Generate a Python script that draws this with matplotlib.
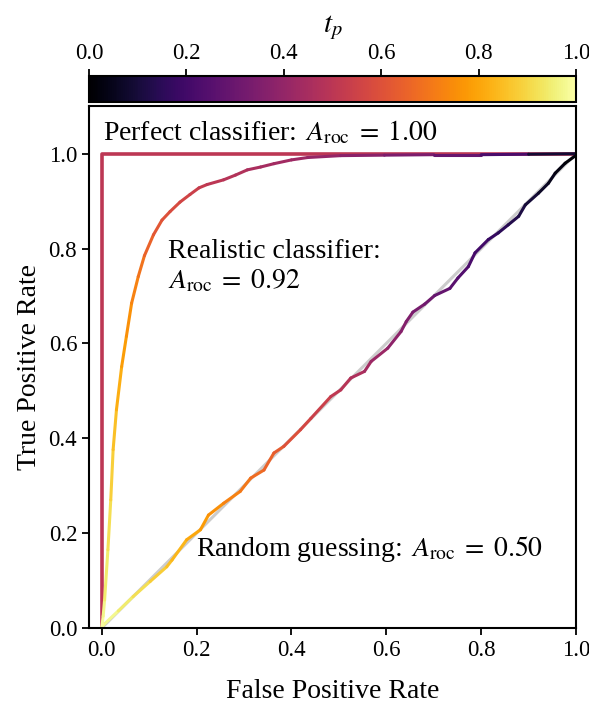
import numpy as np
import matplotlib
matplotlib.use("Agg")
import matplotlib.pyplot as plt
from matplotlib.collections import LineCollection
from matplotlib.cm import ScalarMappable
from matplotlib.colors import Normalize

plt.rcParams['font.family'] = 'serif'
plt.rcParams['font.serif'] = ['Liberation Serif', 'DejaVu Serif']
plt.rcParams['mathtext.fontset'] = 'stix'

# ROC points (FPR, TPR) and the threshold t_p at each point
random_fpr = [0.0, 0.003, 0.035, 0.066, 0.102, 0.137, 0.148, 0.179, 0.208, 0.225, 0.257,
              0.292, 0.314, 0.342, 0.363, 0.384, 0.419, 0.441, 0.483, 0.504, 0.525,
              0.554, 0.568, 0.603, 0.631, 0.642, 0.656, 0.681, 0.702, 0.734, 0.751,
              0.773, 0.787, 0.815, 0.836, 0.857, 0.879, 0.893, 0.921, 0.942, 0.956,
              0.977, 0.999, 1.0]
random_tpr = [0.0, 0.006, 0.036, 0.066, 0.098, 0.129, 0.143, 0.186, 0.207, 0.238, 0.263,
              0.288, 0.316, 0.333, 0.369, 0.383, 0.418, 0.442, 0.488, 0.502, 0.527,
              0.541, 0.562, 0.590, 0.625, 0.646, 0.666, 0.683, 0.701, 0.716, 0.738,
              0.762, 0.791, 0.819, 0.833, 0.850, 0.868, 0.892, 0.917, 0.938, 0.959,
              0.980, 0.996, 1.0]
random_tp = [1.0, 0.99, 0.96, 0.93, 0.90, 0.86, 0.85, 0.82, 0.79, 0.77, 0.74,
             0.71, 0.69, 0.66, 0.64, 0.62, 0.58, 0.56, 0.52, 0.50, 0.48,
             0.45, 0.43, 0.40, 0.37, 0.36, 0.34, 0.32, 0.30, 0.27, 0.25,
             0.23, 0.21, 0.19, 0.16, 0.14, 0.12, 0.11, 0.08, 0.06, 0.04,
             0.02, 0.01, 0.0]

real_fpr = [0.0, 0.003, 0.006, 0.013, 0.019, 0.024, 0.031, 0.042, 0.052, 0.063, 0.077,
            0.090, 0.109, 0.127, 0.144, 0.165, 0.186, 0.205, 0.222, 0.257, 0.282,
            0.307, 0.335, 0.363, 0.400, 0.434, 0.504, 0.596, 0.700, 0.800, 0.900, 1.0]
real_tpr = [0.0, 0.025, 0.059, 0.165, 0.270, 0.376, 0.460, 0.551, 0.615, 0.685, 0.741,
            0.785, 0.829, 0.860, 0.878, 0.898, 0.914, 0.928, 0.935, 0.945, 0.955,
            0.966, 0.972, 0.979, 0.987, 0.992, 0.996, 0.997, 0.998, 0.998, 0.999, 1.0]
real_tp = [1.0, 0.98, 0.96, 0.93, 0.90, 0.87, 0.84, 0.80, 0.77, 0.74, 0.71,
           0.67, 0.63, 0.61, 0.59, 0.57, 0.55, 0.53, 0.51, 0.49, 0.48,
           0.47, 0.45, 0.44, 0.43, 0.42, 0.39, 0.36, 0.32, 0.26, 0.18, 0.0]

perfect_fpr = [0.0, 0.0, 1.0]
perfect_tpr = [0.0, 1.0, 1.0]
perfect_tp = 0.5

cmap = plt.get_cmap('inferno')
norm = Normalize(0, 1)


def colored_curve(ax, x, y, t, lw):
    pts = np.column_stack([x, y])
    segs = np.stack([pts[:-1], pts[1:]], axis=1)
    t = np.asarray(t)
    lc = LineCollection(segs, cmap=cmap, norm=norm, linewidths=lw,
                        capstyle='round', joinstyle='round')
    lc.set_array((t[:-1] + t[1:]) / 2)
    ax.add_collection(lc)
    return lc


fig = plt.figure(figsize=(5.89, 7.04), dpi=100)
ax = fig.add_axes([0.151, 0.108, 0.827, 0.741])
cax = fig.add_axes([0.151, 0.855, 0.827, 0.037])

ax.plot([0, 1], [0, 1], color='0.8', lw=2.2, zorder=1)
ax.plot(perfect_fpr, perfect_tpr, color=cmap(perfect_tp), lw=2.6, zorder=2)
colored_curve(ax, random_fpr, random_tpr, random_tp, 2.2)
colored_curve(ax, real_fpr, real_tpr, real_tp, 2.2)

ax.set_xlim(-0.027, 1.0)
ax.set_ylim(0, 1.1)
ax.set_xticks([0, 0.2, 0.4, 0.6, 0.8, 1.0])
ax.set_yticks([0, 0.2, 0.4, 0.6, 0.8, 1.0])
ax.set_xlabel('False Positive Rate', fontsize=20, labelpad=13)
ax.set_ylabel('True Positive Rate', fontsize=20, labelpad=5)
ax.tick_params(labelsize=16.5, width=1.3, length=5)
for s in ax.spines.values():
    s.set_linewidth(1.5)

ax.text(0.002, 1.044, r'Perfect classifier: $\,A_\mathrm{roc}\;=\;1.00$', fontsize=20, va='center')
ax.text(0.14, 0.82, 'Realistic classifier:\n$A_\\mathrm{roc}\\;=\\;0.92$', fontsize=20,
        va='top', linespacing=1.2)
ax.text(0.199, 0.167, r'Random guessing: $\,A_\mathrm{roc}\;=\;0.50$', fontsize=20, va='center')

cb = fig.colorbar(ScalarMappable(norm=norm, cmap=cmap), cax=cax, orientation='horizontal')
cb.set_ticks([0, 0.2, 0.4, 0.6, 0.8, 1.0])
cax.xaxis.set_ticks_position('top')
cax.xaxis.set_label_position('top')
cb.set_label('$t_p$', fontsize=21, labelpad=8)
cax.tick_params(labelsize=16.5, width=1.3, length=5)
cb.outline.set_linewidth(1.5)

fig.savefig('out.png', dpi=100)
